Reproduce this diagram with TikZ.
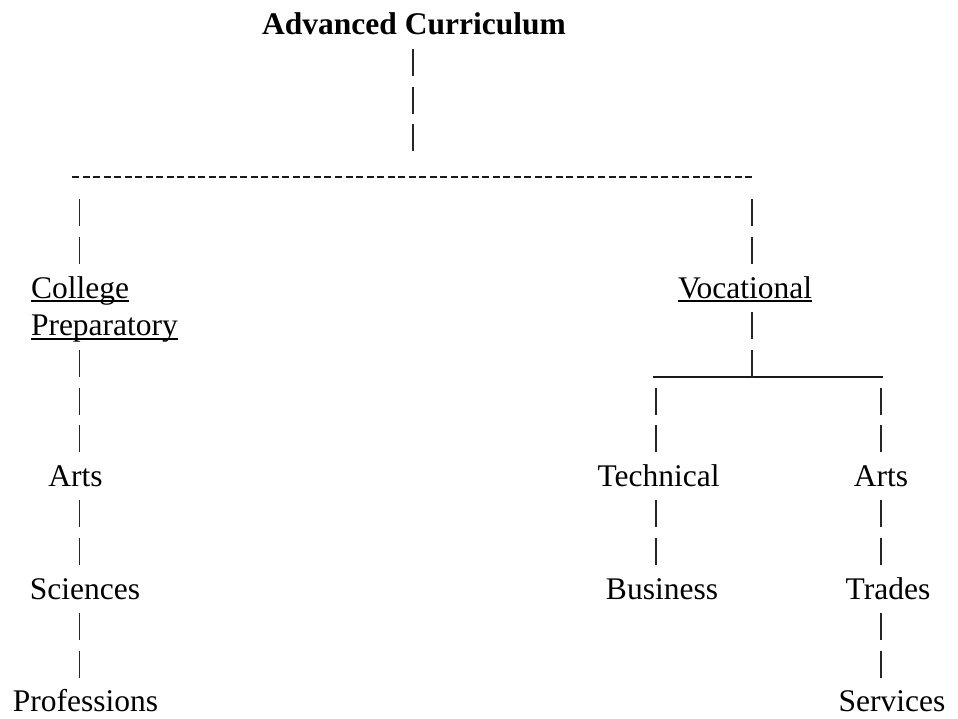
\documentclass[tikz,border=0pt]{standalone}
\usepackage{fontspec}
\setmainfont{Liberation Serif}
\usetikzlibrary{calc}
\tikzset{
  txt/.style={font=\fontsize{31.5pt}{37.6pt}\selectfont, inner sep=0pt, outer sep=0pt, anchor=base, text=black},
  bars/.style={draw=black!85, line width=1.4pt, dash pattern=on 27pt off 10.6pt},
  hyph/.style={draw=black!90, line width=2.2pt, dash pattern=on 7pt off 3.52pt},
  uscore/.style={draw=black!90, line width=1.4pt},
  uline/.style={draw=black, line width=1.5pt}
}
\begin{document}
\begin{tikzpicture}[x=1pt,y=-1pt]
\useasboundingbox (0,0) rectangle (958,719);
% columns
\coordinate (cTop) at (413,0);
\coordinate (cL) at (79.5,0);
\coordinate (cV) at (752,0);
\coordinate (cT) at (656,0);
\coordinate (cA) at (881,0);
% text nodes (baselines at 35 + 37.6k)
\node[txt, font=\fontsize{31.5pt}{37.6pt}\selectfont\bfseries] (title) at (414,35) {Advanced Curriculum};
\node[txt, anchor=base west] (coll) at (31,298.2) {College};
\node[txt, anchor=base west] (prep) at (31,335.8) {Preparatory};
\node[txt, anchor=base west] (voc) at (678,298.2) {Vocational};
\node[txt] (artsL) at (75.5,486.2) {Arts};
\node[txt] (sci) at (85,599) {Sciences};
\node[txt] (prof) at (85.5,711.8) {Professions};
\node[txt] (tech) at (658.5,486.2) {Technical};
\node[txt] (bus) at (662,599) {Business};
\node[txt] (artsR) at (881,486.2) {Arts};
\node[txt] (trad) at (888,599) {Trades};
\node[txt] (serv) at (892,711.8) {Services};
% underlines
\draw[uline] ([yshift=-3pt]coll.base west) -- ([yshift=-3pt]coll.base east);
\draw[uline] ([yshift=-3pt]prep.base west) -- ([yshift=-3pt]prep.base east);
\draw[uline] ([yshift=-3pt]voc.base west) -- ([yshift=-3pt]voc.base east);
% hub line of hyphens
\coordinate (hub) at (413,177);
\coordinate (hl) at (72,177);
\coordinate (hr) at (755,177);
\draw[hyph] (hl) -- (hr);
% junction under Vocational
\coordinate (vj) at (752,376.9);
\coordinate (vjl) at (653,376.9);
\coordinate (vjr) at (883,376.9);
\draw[uscore] (vjl) -- (vjr);
% connectors
\draw[bars] ($(cTop |- title.base)+(0,14.1)$) -- ($(cTop |- hub)+(0,-25.7)$);
\draw[bars] ($(cL |- hl)+(0,22.5)$) -- ($(cL |- coll.base)+(0,-34.1)$);
\draw[bars] ($(cV |- hr)+(0,22.5)$) -- ($(cV |- voc.base)+(0,-34.1)$);
\draw[bars] ($(cL |- prep.base)+(0,14.1)$) -- ($(cL |- artsL.base)+(0,-34.1)$);
\draw[bars] ($(cL |- artsL.base)+(0,14.1)$) -- ($(cL |- sci.base)+(0,-34.1)$);
\draw[bars] ($(cL |- sci.base)+(0,14.1)$) -- ($(cL |- prof.base)+(0,-34.1)$);
\draw[bars] ($(cV |- voc.base)+(0,14.1)$) -- (vj);
\draw[bars] ($(cT |- vjl)+(0,10.6)$) -- ($(cT |- tech.base)+(0,-34.1)$);
\draw[bars] ($(cA |- vjr)+(0,10.6)$) -- ($(cA |- artsR.base)+(0,-34.1)$);
\draw[bars] ($(cT |- tech.base)+(0,14.1)$) -- ($(cT |- bus.base)+(0,-34.1)$);
\draw[bars] ($(cA |- artsR.base)+(0,14.1)$) -- ($(cA |- trad.base)+(0,-34.1)$);
\draw[bars] ($(cA |- trad.base)+(0,14.1)$) -- ($(cA |- serv.base)+(0,-34.1)$);
\end{tikzpicture}
\end{document}
